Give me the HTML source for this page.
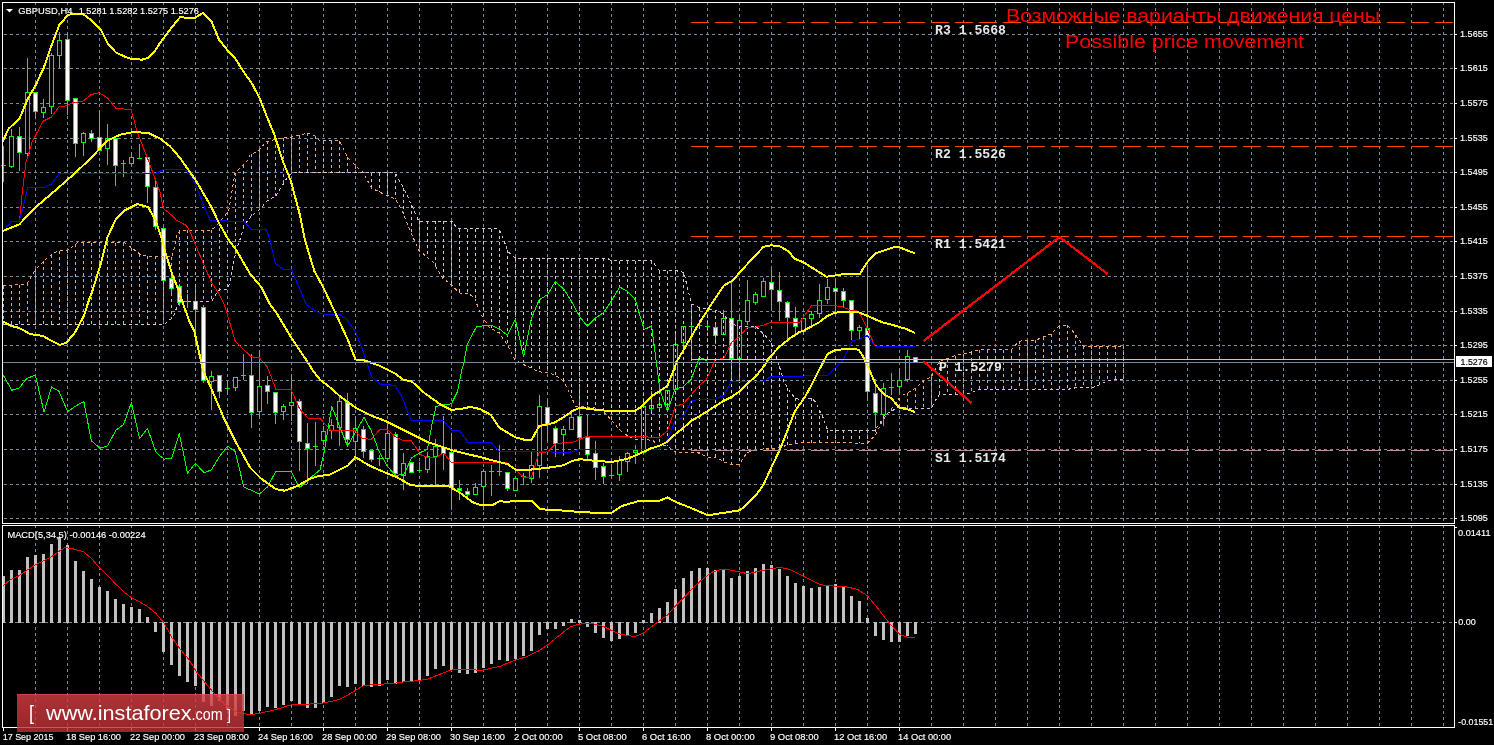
<!DOCTYPE html>
<html><head><meta charset="utf-8"><style>
html,body{margin:0;padding:0;background:#000;width:1494px;height:745px;overflow:hidden}
svg{display:block}
</style></head><body>
<svg width="1494" height="745" viewBox="0 0 1494 745" shape-rendering="crispEdges">
<rect x="0" y="0" width="1494" height="745" fill="#000"/>
<path d="M3 34.5H1454 M3 68.5H1454 M3 103.5H1454 M3 138.5H1454 M3 172.5H1454 M3 207.5H1454 M3 241.5H1454 M3 276.5H1454 M3 311.5H1454 M3 345.5H1454 M3 380.5H1454 M3 414.5H1454 M3 449.5H1454 M3 484.5H1454 M3 518.5H1454" stroke="#778899" stroke-width="1" stroke-dasharray="3 3" stroke-dashoffset="5" fill="none"/>
<path d="M35.5 3V523 M35.5 526V727 M67.5 3V523 M67.5 526V727 M99.5 3V523 M99.5 526V727 M131.5 3V523 M131.5 526V727 M163.5 3V523 M163.5 526V727 M195.5 3V523 M195.5 526V727 M227.5 3V523 M227.5 526V727 M259.5 3V523 M259.5 526V727 M291.5 3V523 M291.5 526V727 M323.5 3V523 M323.5 526V727 M355.5 3V523 M355.5 526V727 M387.5 3V523 M387.5 526V727 M419.5 3V523 M419.5 526V727 M451.5 3V523 M451.5 526V727 M483.5 3V523 M483.5 526V727 M515.5 3V523 M515.5 526V727 M547.5 3V523 M547.5 526V727 M579.5 3V523 M579.5 526V727 M611.5 3V523 M611.5 526V727 M643.5 3V523 M643.5 526V727 M675.5 3V523 M675.5 526V727 M707.5 3V523 M707.5 526V727 M739.5 3V523 M739.5 526V727 M771.5 3V523 M771.5 526V727 M803.5 3V523 M803.5 526V727 M835.5 3V523 M835.5 526V727 M867.5 3V523 M867.5 526V727 M899.5 3V523 M899.5 526V727 M931.5 3V523 M931.5 526V727 M963.5 3V523 M963.5 526V727 M995.5 3V523 M995.5 526V727 M1027.5 3V523 M1027.5 526V727 M1059.5 3V523 M1059.5 526V727 M1091.5 3V523 M1091.5 526V727 M1123.5 3V523 M1123.5 526V727 M1155.5 3V523 M1155.5 526V727 M1187.5 3V523 M1187.5 526V727 M1219.5 3V523 M1219.5 526V727 M1251.5 3V523 M1251.5 526V727 M1283.5 3V523 M1283.5 526V727 M1315.5 3V523 M1315.5 526V727 M1347.5 3V523 M1347.5 526V727 M1379.5 3V523 M1379.5 526V727 M1411.5 3V523 M1411.5 526V727 M1443.5 3V523 M1443.5 526V727" stroke="#778899" stroke-width="1" stroke-dasharray="3 3" stroke-dashoffset="1" fill="none"/>
<path d="M3 622.5H1454" stroke="#778899" stroke-width="1" stroke-dasharray="3 3" fill="none"/>
<path d="M3.5 145.8V181.8 M11.5 128.6V167.8 M19.5 126.6V170.6 M27.5 58.0V157.7 M35.5 92.4V119.0 M43.5 99.2V118.0 M51.5 52.6V113.8 M59.5 31.8V68.3 M67.5 33.3V114.5 M75.5 98.5V156.6 M83.5 132.0V155.6 M91.5 130.4V141.6 M99.5 110.5V149.5 M107.5 124.4V165.2 M115.5 138.0V185.6 M123.5 159.9V177.0 M131.5 153.4V166.3 M139.5 143.8V158.8 M147.5 157.0V202.8 M155.5 180.3V230.0 M163.5 226.6V305.0 M171.5 276.0V294.5 M179.5 284.3V305.9 M187.5 294.0V308.0 M195.5 286.4V344.4 M203.5 305.3V383.1 M211.5 371.3V410.0 M219.5 375.1V398.1 M227.5 381.0V395.0 M235.5 377.3V390.6 M243.5 354.0V379.9 M251.5 354.0V428.2 M259.5 350.4V417.5 M267.5 376.2V404.1 M275.5 392.1V423.9 M283.5 403.5V419.6 M291.5 374.4V420.6 M299.5 399.1V470.9 M307.5 422.7V483.8 M315.5 421.6V465.6 M323.5 425.8V445.2 M331.5 419.4V438.7 M339.5 396.8V446.2 M347.5 392.6V446.2 M355.5 417.3V460.2 M363.5 425.8V458.1 M371.5 449.9V462.4 M379.5 454.8V465.6 M387.5 422.6V462.4 M395.5 432.3V475.2 M403.5 452.7V490.3 M411.5 462.4V472.0 M419.5 462.4V473.1 M427.5 451.6V473.1 M435.5 438.7V487.1 M443.5 416.2V469.9 M451.5 433.4V509.6 M459.5 479.5V499.9 M467.5 487.7V498.9 M475.5 482.8V494.6 M483.5 468.5V510.3 M491.5 465.2V496.4 M499.5 444.8V476.0 M507.5 472.1V491.4 M515.5 478.1V491.0 M523.5 472.8V484.6 M531.5 451.9V482.9 M539.5 395.4V478.1 M547.5 399.7V440.5 M555.5 425.5V456.6 M563.5 425.5V455.6 M571.5 412.6V429.2 M579.5 389.0V450.2 M587.5 414.8V458.8 M595.5 441.2V480.3 M603.5 463.1V483.5 M611.5 467.0V478.6 M619.5 456.0V481.3 M627.5 452.0V472.0 M635.5 445.3V464.0 M643.5 400.7V452.2 M651.5 391.0V411.0 M659.5 399.1V410.4 M667.5 390.0V411.6 M675.5 331.7V390.0 M683.5 326.0V353.3 M691.5 307.2V359.5 M699.5 322.0V327.4 M707.5 322.5V331.0 M715.5 323.1V343.5 M723.5 310.2V333.8 M731.5 282.3V380.0 M739.5 314.5V380.0 M747.5 280.1V325.2 M755.5 292.0V304.8 M763.5 278.0V297.3 M771.5 269.0V310.2 M779.5 271.5V320.9 M787.5 300.5V339.2 M795.5 307.3V333.1 M803.5 315.9V335.2 M811.5 310.5V324.5 M819.5 284.1V318.1 M827.5 279.0V304.1 M835.5 279.0V311.6 M843.5 287.6V307.3 M851.5 299.8V339.5 M859.5 324.5V339.5 M867.5 265.4V401.2 M875.5 378.7V428.1 M883.5 383.0V425.9 M891.5 373.3V394.8 M899.5 369.0V392.6 M907.5 349.7V381.9 M915.5 356.5V362.5" stroke="#00ff00" stroke-width="1" fill="none"/>
<rect x="1" y="165" width="5" height="1" fill="#00ff00"/>
<rect x="9.5" y="136.5" width="4" height="30" fill="#000" stroke="#00ff00" stroke-width="1"/>
<rect x="17.5" y="136.5" width="4" height="16" fill="#fff" stroke="#00ff00" stroke-width="1"/>
<rect x="25.5" y="92.5" width="4" height="61" fill="#000" stroke="#00ff00" stroke-width="1"/>
<rect x="33.5" y="92.5" width="4" height="19" fill="#fff" stroke="#00ff00" stroke-width="1"/>
<rect x="41.5" y="107.5" width="4" height="5" fill="#000" stroke="#00ff00" stroke-width="1"/>
<rect x="49.5" y="55.5" width="4" height="51" fill="#000" stroke="#00ff00" stroke-width="1"/>
<rect x="57.5" y="40.5" width="4" height="15" fill="#000" stroke="#00ff00" stroke-width="1"/>
<rect x="65.5" y="39.5" width="4" height="61" fill="#fff" stroke="#00ff00" stroke-width="1"/>
<rect x="73.5" y="98.5" width="4" height="45" fill="#fff" stroke="#00ff00" stroke-width="1"/>
<rect x="81.5" y="133.5" width="4" height="9" fill="#000" stroke="#00ff00" stroke-width="1"/>
<rect x="89.5" y="133.5" width="4" height="5" fill="#fff" stroke="#00ff00" stroke-width="1"/>
<rect x="97.5" y="137.5" width="4" height="13" fill="#fff" stroke="#00ff00" stroke-width="1"/>
<rect x="105.5" y="138.5" width="4" height="10" fill="#000" stroke="#00ff00" stroke-width="1"/>
<rect x="113.5" y="138.5" width="4" height="27" fill="#fff" stroke="#00ff00" stroke-width="1"/>
<rect x="121" y="163" width="5" height="1" fill="#00ff00"/>
<rect x="129.5" y="157.5" width="4" height="6" fill="#000" stroke="#00ff00" stroke-width="1"/>
<rect x="137" y="158" width="5" height="1" fill="#00ff00"/>
<rect x="145.5" y="157.5" width="4" height="29" fill="#fff" stroke="#00ff00" stroke-width="1"/>
<rect x="153.5" y="187.5" width="4" height="39" fill="#fff" stroke="#00ff00" stroke-width="1"/>
<rect x="161.5" y="228.5" width="4" height="52" fill="#fff" stroke="#00ff00" stroke-width="1"/>
<rect x="169.5" y="278.5" width="4" height="10" fill="#fff" stroke="#00ff00" stroke-width="1"/>
<rect x="177.5" y="286.5" width="4" height="16" fill="#fff" stroke="#00ff00" stroke-width="1"/>
<rect x="185" y="301" width="5" height="1" fill="#00ff00"/>
<rect x="193.5" y="301.5" width="4" height="8" fill="#fff" stroke="#00ff00" stroke-width="1"/>
<rect x="201.5" y="307.5" width="4" height="73" fill="#fff" stroke="#00ff00" stroke-width="1"/>
<rect x="209.5" y="376.5" width="4" height="5" fill="#000" stroke="#00ff00" stroke-width="1"/>
<rect x="217.5" y="375.5" width="4" height="16" fill="#fff" stroke="#00ff00" stroke-width="1"/>
<rect x="225" y="388" width="5" height="1" fill="#00ff00"/>
<rect x="233.5" y="377.5" width="4" height="10" fill="#000" stroke="#00ff00" stroke-width="1"/>
<rect x="241" y="375" width="5" height="1" fill="#00ff00"/>
<rect x="249.5" y="375.5" width="4" height="37" fill="#fff" stroke="#00ff00" stroke-width="1"/>
<rect x="257.5" y="386.5" width="4" height="25" fill="#000" stroke="#00ff00" stroke-width="1"/>
<rect x="265.5" y="385.5" width="4" height="6" fill="#fff" stroke="#00ff00" stroke-width="1"/>
<rect x="273.5" y="392.5" width="4" height="20" fill="#fff" stroke="#00ff00" stroke-width="1"/>
<rect x="281.5" y="406.5" width="4" height="5" fill="#000" stroke="#00ff00" stroke-width="1"/>
<rect x="289.5" y="402.5" width="4" height="3" fill="#000" stroke="#00ff00" stroke-width="1"/>
<rect x="297.5" y="401.5" width="4" height="40" fill="#fff" stroke="#00ff00" stroke-width="1"/>
<rect x="305.5" y="443.5" width="4" height="5" fill="#fff" stroke="#00ff00" stroke-width="1"/>
<rect x="313" y="446" width="5" height="1" fill="#00ff00"/>
<rect x="321.5" y="431.5" width="4" height="9" fill="#000" stroke="#00ff00" stroke-width="1"/>
<rect x="329.5" y="425.5" width="4" height="5" fill="#000" stroke="#00ff00" stroke-width="1"/>
<rect x="337.5" y="401.5" width="4" height="26" fill="#000" stroke="#00ff00" stroke-width="1"/>
<rect x="345.5" y="402.5" width="4" height="37" fill="#fff" stroke="#00ff00" stroke-width="1"/>
<rect x="353.5" y="428.5" width="4" height="13" fill="#000" stroke="#00ff00" stroke-width="1"/>
<rect x="361.5" y="429.5" width="4" height="22" fill="#fff" stroke="#00ff00" stroke-width="1"/>
<rect x="369.5" y="450.5" width="4" height="9" fill="#fff" stroke="#00ff00" stroke-width="1"/>
<rect x="377" y="458" width="5" height="1" fill="#00ff00"/>
<rect x="385.5" y="433.5" width="4" height="25" fill="#000" stroke="#00ff00" stroke-width="1"/>
<rect x="393.5" y="434.5" width="4" height="39" fill="#fff" stroke="#00ff00" stroke-width="1"/>
<rect x="401.5" y="463.5" width="4" height="12" fill="#000" stroke="#00ff00" stroke-width="1"/>
<rect x="409.5" y="462.5" width="4" height="10" fill="#fff" stroke="#00ff00" stroke-width="1"/>
<rect x="417" y="470" width="5" height="1" fill="#00ff00"/>
<rect x="425.5" y="456.5" width="4" height="13" fill="#000" stroke="#00ff00" stroke-width="1"/>
<rect x="433.5" y="446.5" width="4" height="10" fill="#000" stroke="#00ff00" stroke-width="1"/>
<rect x="441.5" y="447.5" width="4" height="6" fill="#fff" stroke="#00ff00" stroke-width="1"/>
<rect x="449.5" y="452.5" width="4" height="35" fill="#fff" stroke="#00ff00" stroke-width="1"/>
<rect x="457.5" y="488.5" width="4" height="2" fill="#fff" stroke="#00ff00" stroke-width="1"/>
<rect x="465.5" y="491.5" width="4" height="3" fill="#fff" stroke="#00ff00" stroke-width="1"/>
<rect x="473.5" y="487.5" width="4" height="7" fill="#000" stroke="#00ff00" stroke-width="1"/>
<rect x="481.5" y="471.5" width="4" height="15" fill="#000" stroke="#00ff00" stroke-width="1"/>
<rect x="489" y="471" width="5" height="1" fill="#00ff00"/>
<rect x="497" y="471" width="5" height="1" fill="#00ff00"/>
<rect x="505.5" y="472.5" width="4" height="16" fill="#fff" stroke="#00ff00" stroke-width="1"/>
<rect x="513.5" y="478.5" width="4" height="12" fill="#000" stroke="#00ff00" stroke-width="1"/>
<rect x="521" y="476" width="5" height="1" fill="#00ff00"/>
<rect x="529.5" y="465.5" width="4" height="13" fill="#000" stroke="#00ff00" stroke-width="1"/>
<rect x="537.5" y="406.5" width="4" height="59" fill="#000" stroke="#00ff00" stroke-width="1"/>
<rect x="545.5" y="407.5" width="4" height="17" fill="#fff" stroke="#00ff00" stroke-width="1"/>
<rect x="553.5" y="428.5" width="4" height="15" fill="#fff" stroke="#00ff00" stroke-width="1"/>
<rect x="561.5" y="429.5" width="4" height="5" fill="#000" stroke="#00ff00" stroke-width="1"/>
<rect x="569.5" y="417.5" width="4" height="12" fill="#000" stroke="#00ff00" stroke-width="1"/>
<rect x="577.5" y="416.5" width="4" height="21" fill="#fff" stroke="#00ff00" stroke-width="1"/>
<rect x="585.5" y="437.5" width="4" height="17" fill="#fff" stroke="#00ff00" stroke-width="1"/>
<rect x="593.5" y="453.5" width="4" height="14" fill="#fff" stroke="#00ff00" stroke-width="1"/>
<rect x="601.5" y="466.5" width="4" height="10" fill="#fff" stroke="#00ff00" stroke-width="1"/>
<rect x="609" y="475" width="5" height="1" fill="#00ff00"/>
<rect x="617.5" y="460.5" width="4" height="14" fill="#000" stroke="#00ff00" stroke-width="1"/>
<rect x="625.5" y="453.5" width="4" height="8" fill="#000" stroke="#00ff00" stroke-width="1"/>
<rect x="633.5" y="450.5" width="4" height="2" fill="#000" stroke="#00ff00" stroke-width="1"/>
<rect x="641.5" y="406.5" width="4" height="46" fill="#000" stroke="#00ff00" stroke-width="1"/>
<rect x="649.5" y="405.5" width="4" height="3" fill="#000" stroke="#00ff00" stroke-width="1"/>
<rect x="657.5" y="404.5" width="4" height="3" fill="#000" stroke="#00ff00" stroke-width="1"/>
<rect x="665.5" y="390.5" width="4" height="14" fill="#000" stroke="#00ff00" stroke-width="1"/>
<rect x="673.5" y="344.5" width="4" height="45" fill="#000" stroke="#00ff00" stroke-width="1"/>
<rect x="681.5" y="326.5" width="4" height="16" fill="#000" stroke="#00ff00" stroke-width="1"/>
<rect x="689" y="326" width="5" height="1" fill="#00ff00"/>
<rect x="697" y="325" width="5" height="1" fill="#00ff00"/>
<rect x="705" y="326" width="5" height="1" fill="#00ff00"/>
<rect x="713.5" y="327.5" width="4" height="8" fill="#fff" stroke="#00ff00" stroke-width="1"/>
<rect x="721.5" y="318.5" width="4" height="16" fill="#000" stroke="#00ff00" stroke-width="1"/>
<rect x="729.5" y="318.5" width="4" height="40" fill="#fff" stroke="#00ff00" stroke-width="1"/>
<rect x="737.5" y="320.5" width="4" height="38" fill="#000" stroke="#00ff00" stroke-width="1"/>
<rect x="745.5" y="300.5" width="4" height="21" fill="#000" stroke="#00ff00" stroke-width="1"/>
<rect x="753.5" y="294.5" width="4" height="8" fill="#000" stroke="#00ff00" stroke-width="1"/>
<rect x="761.5" y="281.5" width="4" height="15" fill="#000" stroke="#00ff00" stroke-width="1"/>
<rect x="769.5" y="282.5" width="4" height="7" fill="#fff" stroke="#00ff00" stroke-width="1"/>
<rect x="777.5" y="290.5" width="4" height="11" fill="#fff" stroke="#00ff00" stroke-width="1"/>
<rect x="785.5" y="302.5" width="4" height="15" fill="#fff" stroke="#00ff00" stroke-width="1"/>
<rect x="793.5" y="318.5" width="4" height="8" fill="#fff" stroke="#00ff00" stroke-width="1"/>
<rect x="801.5" y="318.5" width="4" height="13" fill="#000" stroke="#00ff00" stroke-width="1"/>
<rect x="809.5" y="314.5" width="4" height="4" fill="#000" stroke="#00ff00" stroke-width="1"/>
<rect x="817.5" y="300.5" width="4" height="13" fill="#000" stroke="#00ff00" stroke-width="1"/>
<rect x="825.5" y="287.5" width="4" height="12" fill="#000" stroke="#00ff00" stroke-width="1"/>
<rect x="833.5" y="288.5" width="4" height="3" fill="#fff" stroke="#00ff00" stroke-width="1"/>
<rect x="841.5" y="291.5" width="4" height="9" fill="#fff" stroke="#00ff00" stroke-width="1"/>
<rect x="849.5" y="300.5" width="4" height="30" fill="#fff" stroke="#00ff00" stroke-width="1"/>
<rect x="857.5" y="327.5" width="4" height="3" fill="#000" stroke="#00ff00" stroke-width="1"/>
<rect x="865.5" y="328.5" width="4" height="63" fill="#fff" stroke="#00ff00" stroke-width="1"/>
<rect x="873.5" y="393.5" width="4" height="19" fill="#fff" stroke="#00ff00" stroke-width="1"/>
<rect x="881.5" y="388.5" width="4" height="26" fill="#000" stroke="#00ff00" stroke-width="1"/>
<rect x="889" y="387" width="5" height="1" fill="#00ff00"/>
<rect x="897.5" y="380.5" width="4" height="6" fill="#000" stroke="#00ff00" stroke-width="1"/>
<rect x="905.5" y="356.5" width="4" height="23" fill="#000" stroke="#00ff00" stroke-width="1"/>
<rect x="913.5" y="357.5" width="4" height="5" fill="#fff" stroke="#00ff00" stroke-width="1"/>
<path d="M3.5 285.6V324.0 M11.5 285.0V324.0 M19.5 284.5V324.0 M27.5 282.8V324.0 M35.5 269.4V324.0 M43.5 261.4V324.0 M51.5 254.9V324.0 M59.5 251.0V324.0 M67.5 250.2V324.0 M75.5 244.1V324.0 M83.5 242.7V324.0 M91.5 242.7V324.0 M99.5 242.7V324.0 M107.5 242.7V324.0 M115.5 242.7V324.0 M123.5 242.7V324.0 M131.5 247.8V324.0 M139.5 253.9V324.0 M147.5 255.9V324.0 M155.5 256.4V324.0 M163.5 256.8V324.0 M171.5 256.9V318.3 M179.5 231.0V302.4 M187.5 230.0V301.2 M195.5 230.0V301.2 M203.5 230.0V301.2 M211.5 230.0V301.2 M219.5 222.3V290.1 M227.5 212.1V289.1 M235.5 172.5V254.2 M243.5 164.5V227.4 M251.5 154.0V216.1 M259.5 149.4V209.7 M267.5 141.4V200.7 M275.5 139.3V195.7 M283.5 138.1V183.6 M291.5 136.9V173.7 M299.5 134.9V172.9 M307.5 133.3V172.9 M315.5 136.3V172.9 M323.5 140.8V172.9 M331.5 140.8V172.9 M339.5 141.2V172.9 M347.5 157.2V172.9 M355.5 165.6V172.9 M363.5 172.9V173.0 M891.5 408.4V411.2 M899.5 398.2V406.6 M907.5 392.9V408.2 M915.5 388.2V408.2 M923.5 380.4V408.2 M931.5 377.0V408.0 M939.5 361.2V394.2 M947.5 358.5V394.2 M955.5 355.5V394.2 M963.5 354.1V394.2 M971.5 351.8V392.6 M979.5 349.9V389.4 M987.5 349.9V389.4 M995.5 349.9V389.4 M1003.5 349.9V389.4 M1011.5 349.5V389.4 M1019.5 341.1V389.4 M1027.5 340.7V389.4 M1035.5 340.2V389.4 M1043.5 337.0V389.4 M1051.5 333.7V389.4 M1059.5 325.8V389.4 M1067.5 325.0V389.4 M1075.5 334.5V387.8 M1083.5 346.3V387.8 M1091.5 346.4V387.8 M1099.5 346.4V384.7 M1107.5 346.4V380.7 M1115.5 346.4V379.7 M1123.5 346.4V378.9" stroke="#f4a460" stroke-width="1" stroke-dasharray="3 3" fill="none"/>
<path d="M371.5 173.0V188.0 M379.5 173.0V192.0 M387.5 173.0V195.6 M395.5 173.5V199.3 M403.5 188.0V214.2 M411.5 204.9V233.9 M419.5 221.3V250.9 M427.5 221.3V257.5 M435.5 221.3V265.9 M443.5 221.3V278.7 M451.5 221.3V284.9 M459.5 228.9V292.9 M467.5 228.9V293.0 M475.5 228.9V300.6 M483.5 228.9V318.2 M491.5 229.0V328.5 M499.5 229.5V333.5 M507.5 250.4V345.3 M515.5 258.0V359.7 M523.5 258.0V364.5 M531.5 258.0V368.3 M539.5 258.0V371.8 M547.5 258.0V372.8 M555.5 258.0V375.2 M563.5 258.0V381.3 M571.5 258.0V397.2 M579.5 258.0V406.5 M587.5 258.0V407.0 M595.5 258.0V408.2 M603.5 258.0V412.1 M611.5 260.6V420.3 M619.5 260.6V429.7 M627.5 260.6V435.7 M635.5 260.6V439.0 M643.5 260.7V439.4 M651.5 260.8V440.3 M659.5 270.5V445.9 M667.5 270.5V445.9 M675.5 270.5V452.4 M683.5 272.5V452.4 M691.5 303.8V452.4 M699.5 307.8V453.4 M707.5 309.1V457.2 M715.5 310.3V457.7 M723.5 314.4V461.4 M731.5 324.2V464.3 M739.5 326.2V463.8 M747.5 326.3V453.1 M755.5 326.3V450.7 M763.5 333.8V449.4 M771.5 342.7V448.4 M779.5 366.1V447.6 M787.5 387.5V445.0 M795.5 397.9V443.5 M803.5 398.2V442.7 M811.5 398.0V442.8 M819.5 409.8V442.8 M827.5 429.9V442.9 M835.5 430.2V442.9 M843.5 430.2V443.0 M851.5 430.2V443.0 M859.5 430.2V443.1 M867.5 430.2V442.9 M875.5 429.3V434.9 M883.5 416.9V419.0" stroke="#d8bfd8" stroke-width="1" stroke-dasharray="3 3" fill="none"/>
<path d="M3.2 285.6 L26.8 284.0 L35.4 269.5 L47.2 257.7 L57.0 251.3 L67.6 250.2 L77.3 242.7 L124.6 242.7 L133.2 249.0 L141.7 255.6 L160.0 256.7 L171.5 256.9 L173.5 251.5 L176.8 234.8 L180.2 230.0 L211.7 230.0 L217.1 224.7 L220.5 221.3 L228.7 210.5 L235.0 173.0 L248.0 160.0 L250.2 154.6 L257.7 151.4 L266.3 141.7 L276.0 139.2 L291.0 137.0 L299.6 134.9 L308.2 133.2 L315.7 136.4 L320.0 140.8 L339.3 140.8 L347.9 158.0 L355.4 165.5 L363.0 172.0 L371.5 188.0 L382.3 193.4 L395.2 198.8 L401.6 209.5 L410.2 231.0 L418.8 250.3 L425.2 255.5 L433.8 262.9 L442.4 277.9 L451.0 284.4 L459.6 293.0 L468.2 293.0 L474.6 298.3 L480.0 312.3 L488.6 326.7 L499.3 333.2 L508.0 346.0 L514.4 359.0 L523.0 364.3 L539.1 371.8 L548.7 372.9 L555.2 375.0 L563.8 381.5 L570.2 394.4 L575.6 406.2 L591.7 407.3 L600.3 409.4 L606.7 414.8 L613.2 422.3 L619.6 429.8 L628.2 436.2 L634.6 439.0 L640.0 439.0 L652.9 440.5 L659.3 445.9 L667.5 445.9 L675.4 452.4 L696.9 452.4 L701.7 454.2 L707.4 457.2 L714.6 457.4 L719.5 459.3 L725.1 462.3 L731.5 464.3 L739.2 464.3 L742.0 459.9 L746.0 454.2 L750.0 451.2 L756.5 450.6 L762.1 449.6 L768.6 448.6 L774.2 448.3 L779.6 447.6 L788.2 444.8 L800.0 442.7 L867.3 443.1 L875.9 434.5 L882.4 420.5 L898.5 399.1 L903.2 395.0 L911.3 391.0 L916.1 387.8 L924.2 379.7 L931.4 377.3 L932.2 374.9 L939.5 361.2 L946.7 358.8 L954.8 355.6 L964.4 354.0 L972.5 351.5 L978.9 349.9 L1011.1 349.9 L1019.2 341.1 L1035.3 340.3 L1043.4 337.0 L1051.4 333.8 L1059.5 325.8 L1067.5 325.0 L1075.6 334.6 L1083.6 346.4 L1123.9 346.4" stroke="#f4a460" stroke-width="1" fill="none" stroke-linejoin="round" stroke-dasharray="3 3" shape-rendering="crispEdges"/>
<path d="M3.2 324.0 L165.0 324.0 L173.5 316.6 L176.8 307.2 L180.2 301.2 L211.7 301.2 L217.1 292.5 L220.5 289.1 L227.9 289.1 L230.5 279.0 L233.2 264.3 L237.2 246.8 L241.3 236.1 L244.0 225.4 L246.6 222.0 L252.4 215.0 L258.8 210.5 L267.4 200.8 L276.0 195.4 L283.5 183.6 L288.9 175.0 L293.2 172.9 L320.0 172.9 L395.2 173.0 L405.9 192.4 L418.8 221.3 L452.0 221.3 L457.5 228.9 L480.0 228.9 L499.3 229.0 L503.6 239.7 L507.9 251.5 L515.4 258.0 L606.7 258.0 L611.0 260.6 L640.0 260.6 L651.8 260.8 L659.3 270.5 L675.4 270.5 L684.0 272.6 L686.2 282.3 L691.5 303.8 L700.1 308.1 L715.2 310.2 L723.8 314.5 L731.3 324.2 L739.9 326.3 L756.0 326.3 L763.5 333.8 L771.4 342.4 L779.6 366.4 L783.9 381.5 L790.3 392.2 L794.6 397.6 L800.0 399.7 L804.0 398.0 L811.5 398.0 L815.8 402.3 L822.2 415.2 L827.6 430.2 L874.8 430.2 L878.1 425.9 L884.5 415.2 L892.0 410.9 L899.5 406.6 L907.2 408.2 L931.4 408.2 L933.8 403.1 L939.5 394.2 L963.6 394.2 L971.7 392.6 L978.9 389.4 L1067.5 389.4 L1075.6 387.8 L1091.7 387.8 L1099.7 384.6 L1107.8 380.5 L1123.9 378.9" stroke="#d8bfd8" stroke-width="1" fill="none" stroke-linejoin="round" stroke-dasharray="3 3" shape-rendering="crispEdges"/>
<path d="M19.3 220.0 L20.4 213.7 L21.5 199.6 L25.8 163.0 L26.8 160.0 L32.2 141.7 L43.0 121.3 L51.5 117.0 L59.0 107.0 L66.6 105.7 L73.0 102.7 L82.7 101.4 L91.3 94.5 L98.8 92.8 L107.4 97.7 L116.0 108.5 L131.0 109.5 L137.5 133.0 L148.2 160.0 L160.0 192.2 L163.2 208.3 L172.9 216.3 L176.2 220.0 L186.2 225.4 L188.9 229.4 L195.6 244.8 L203.7 264.3 L211.1 281.7 L218.5 293.2 L223.8 303.2 L227.2 314.0 L235.2 341.2 L251.3 356.9 L258.8 357.3 L267.4 367.0 L276.0 389.4 L291.0 389.4 L299.6 408.8 L308.2 418.4 L320.0 418.4 L330.7 430.1 L354.4 430.1 L363.0 438.7 L371.5 439.2 L380.1 429.1 L386.6 429.1 L395.2 436.6 L403.8 440.9 L411.3 440.9 L421.0 454.8 L427.4 457.4 L436.0 457.4 L443.5 453.3 L451.4 462.4 L480.0 462.4 L506.8 462.7 L515.4 469.5 L523.4 477.0 L531.5 477.0 L539.1 452.4 L547.4 451.9 L555.2 444.2 L563.8 442.7 L571.5 442.7 L587.4 436.2 L640.0 436.2 L650.7 437.3 L659.3 437.3 L667.5 430.9 L675.4 406.2 L683.0 404.0 L691.5 394.4 L699.0 385.8 L706.6 379.3 L715.2 359.6 L723.8 358.5 L731.5 342.4 L739.4 337.0 L747.4 327.4 L756.0 327.0 L763.5 325.2 L771.4 322.0 L800.0 322.0 L811.5 305.6 L835.1 305.6 L842.6 306.9 L851.2 310.5 L858.7 311.2 L867.3 328.8 L874.8 346.0 L915.0 346.0" stroke="#ff0000" stroke-width="1" fill="none" stroke-linejoin="round" shape-rendering="crispEdges"/>
<path d="M3.2 230.9 L11.8 221.2 L19.3 221.2 L27.9 187.5 L44.0 187.5 L51.5 184.0 L59.0 174.0 L155.5 173.5 L163.5 169.5 L183.5 169.5 L187.5 170.8 L195.5 184.0 L203.5 205.0 L210.4 220.7 L244.0 221.3 L251.3 229.2 L266.3 229.8 L270.0 240.0 L275.4 263.5 L283.4 269.3 L291.5 269.3 L306.2 304.4 L315.6 311.1 L323.0 314.1 L339.1 314.1 L346.5 319.2 L355.4 331.6 L363.0 351.0 L371.5 376.7 L380.1 384.0 L395.2 385.4 L401.6 396.0 L407.0 410.0 L411.3 420.5 L443.5 420.5 L451.4 430.1 L459.6 430.6 L468.2 442.6 L480.0 442.6 L490.7 442.3 L499.3 451.3 L546.6 451.3 L555.2 452.4 L571.3 452.4 L579.9 449.1 L640.0 449.1 L659.3 449.1 L667.5 439.5 L675.4 420.1 L683.0 417.6 L691.5 400.4 L699.0 399.7 L715.2 399.3 L723.8 395.4 L731.3 381.5 L763.5 381.5 L771.4 376.1 L800.0 376.1 L827.6 375.5 L843.7 359.0 L852.3 340.6 L858.7 339.5 L867.3 335.7 L874.8 346.0 L915.0 346.0" stroke="#0000ff" stroke-width="1" fill="none" stroke-linejoin="round" shape-rendering="crispEdges"/>
<path d="M3.2 375.2 L11.8 390.2 L19.3 388.0 L26.8 378.4 L35.4 375.2 L44.0 412.0 L51.5 387.0 L59.0 391.3 L67.6 411.7 L75.2 406.3 L83.8 401.4 L91.3 440.7 L99.9 448.2 L107.4 446.0 L116.0 430.0 L123.5 424.6 L131.4 402.7 L139.6 438.5 L147.5 428.4 L155.7 451.4 L160.0 455.9 L164.3 459.1 L171.8 458.0 L179.3 433.4 L187.5 473.1 L195.4 463.4 L204.0 472.7 L211.5 469.9 L219.0 457.0 L227.7 446.2 L235.2 451.6 L243.8 487.0 L251.3 490.3 L259.4 494.1 L267.4 487.0 L276.0 471.0 L291.0 471.0 L299.6 487.7 L308.2 479.5 L320.0 469.9 L324.3 451.6 L331.8 406.5 L339.3 425.8 L347.5 446.2 L355.4 432.3 L364.0 417.3 L371.5 431.2 L379.1 451.6 L387.7 466.6 L395.2 475.2 L403.8 474.8 L411.3 458.1 L419.9 452.7 L427.4 449.5 L431.7 425.8 L436.0 406.5 L443.5 404.4 L451.4 403.9 L457.5 391.5 L461.8 370.0 L463.9 362.8 L467.1 344.5 L476.8 326.2 L480.0 326.2 L490.7 325.0 L499.3 328.9 L507.5 335.3 L515.4 319.2 L523.6 356.8 L531.5 318.1 L539.1 299.9 L547.7 294.5 L555.2 281.6 L563.8 289.1 L571.3 301.0 L579.9 317.0 L587.4 326.3 L596.0 317.7 L603.5 312.8 L611.4 301.0 L619.6 287.0 L627.6 291.3 L635.5 299.9 L640.0 316.0 L644.3 329.5 L651.6 326.0 L660.1 390.9 L667.6 411.6 L675.1 389.0 L682.6 387.1 L691.1 379.6 L699.5 357.1 L707.1 360.8" stroke="#00ff00" stroke-width="1" fill="none" stroke-linejoin="round" shape-rendering="crispEdges"/>
<path d="M2.6 141.6 L8.6 128.7 L19.3 119.0 L27.9 98.7 L36.5 83.6 L40.3 75.0 L43.5 68.5 L51.5 45.4 L59.5 24.5 L63.8 20.0 L67.5 15.2 L71.8 13.9 L82.6 13.9 L86.3 16.3 L91.5 20.5 L101.0 30.0 L107.4 43.0 L116.0 52.6 L128.9 58.4 L141.7 59.7 L148.2 58.0 L154.6 51.5 L160.0 43.0 L169.7 30.0 L180.4 16.8 L188.0 18.3 L195.4 17.6 L203.0 12.9 L211.5 21.5 L219.0 39.7 L227.7 50.5 L235.2 58.4 L243.8 72.0 L252.4 84.2 L259.9 98.8 L267.4 118.0 L273.8 133.2 L278.0 146.0 L282.4 160.0 L291.0 181.5 L299.6 213.7 L304.9 240.0 L314.3 270.9 L323.7 288.3 L335.8 313.8 L347.9 340.0 L355.4 359.5 L363.0 360.0 L371.5 362.8 L380.1 366.0 L395.2 373.5 L403.8 380.2 L411.3 381.0 L425.2 393.6 L440.3 404.4 L451.0 409.7 L459.6 409.3 L470.3 406.9 L480.0 409.1 L490.7 414.8 L499.3 427.7 L515.4 437.3 L525.1 439.9 L531.5 439.9 L539.1 426.2 L547.7 424.4 L555.2 422.3 L563.8 416.9 L572.4 411.1 L579.9 407.7 L596.0 409.8 L611.4 411.1 L634.6 411.1 L640.0 407.7 L652.9 395.4 L667.5 385.8 L677.6 360.0 L683.0 351.0 L698.0 325.2 L713.0 301.6 L723.8 285.5 L732.4 280.6 L747.4 264.0 L763.5 246.8 L771.4 245.3 L779.6 246.2 L788.2 251.1 L794.6 258.7 L800.0 260.8 L805.0 263.3 L813.6 268.7 L826.5 276.8 L835.1 275.5 L843.7 274.0 L859.8 274.0 L867.3 262.2 L875.9 253.2 L884.5 250.4 L895.2 246.8 L899.5 247.2 L907.1 250.4 L915.0 253.2" stroke="#ffff00" stroke-width="2" fill="none" stroke-linejoin="round" shape-rendering="crispEdges"/>
<path d="M3.2 230.9 L19.3 224.4 L34.4 208.3 L55.8 190.0 L74.0 174.0 L90.2 158.8 L107.4 140.5 L120.3 134.7 L133.2 132.0 L148.2 133.0 L160.0 138.5 L169.7 146.0 L176.0 153.0 L181.5 160.0 L196.5 181.5 L211.5 207.2 L218.5 222.0 L227.9 238.8 L235.9 249.5 L250.0 273.7 L261.0 286.7 L270.0 304.4 L276.0 312.2 L292.8 340.0 L306.0 359.5 L312.5 370.0 L320.0 379.7 L332.9 389.6 L339.3 395.8 L355.4 407.6 L372.6 416.2 L386.6 421.5 L397.3 426.9 L412.4 434.4 L427.4 442.0 L444.6 447.7 L453.2 450.5 L470.3 454.8 L480.0 457.0 L490.7 459.9 L507.9 464.2 L515.4 469.5 L531.5 469.5 L547.7 467.8 L563.8 465.2 L572.4 460.9 L579.9 459.2 L596.0 460.9 L611.4 462.0 L627.6 458.8 L640.0 453.4 L650.7 448.5 L659.3 445.9 L667.5 441.6 L675.4 434.1 L683.0 428.3 L691.5 420.6 L700.1 415.8 L715.2 406.2 L723.8 400.8 L732.4 396.5 L739.9 391.1 L747.4 383.6 L756.0 376.1 L764.6 365.4 L768.9 358.0 L779.6 346.7 L790.3 338.1 L800.0 331.7 L802.9 331.0 L819.0 322.4 L827.6 315.9 L835.1 312.7 L843.7 311.6 L854.4 311.6 L859.8 312.7 L867.3 315.9 L882.4 322.4 L890.9 324.5 L907.1 329.2 L915.0 333.1" stroke="#ffff00" stroke-width="2" fill="none" stroke-linejoin="round" shape-rendering="crispEdges"/>
<path d="M3.2 321.5 L10.7 325.8 L19.3 328.0 L30.0 334.0 L43.0 336.0 L51.5 340.8 L60.0 345.0 L66.6 342.5 L75.2 332.2 L83.8 316.0 L89.0 300.0 L92.4 291.0 L101.0 263.0 L107.4 237.3 L116.0 219.0 L124.6 210.5 L137.5 204.0 L148.2 207.2 L155.4 220.0 L162.1 240.1 L166.1 254.9 L172.1 273.7 L178.9 291.1 L182.9 303.2 L188.9 320.0 L194.4 331.5 L203.0 370.2 L211.5 389.0 L224.4 419.4 L235.2 440.9 L250.2 467.7 L261.0 478.5 L276.0 489.2 L284.6 490.7 L297.5 486.0 L310.3 478.5 L320.0 475.7 L328.6 475.2 L339.3 469.9 L347.9 465.6 L355.4 457.0 L363.0 461.9 L371.5 466.6 L386.6 473.1 L397.3 477.4 L410.2 484.9 L418.8 486.0 L436.0 486.0 L448.9 486.4 L459.6 492.4 L472.5 502.1 L480.0 504.9 L492.9 505.0 L499.3 501.3 L507.9 501.8 L515.4 500.7 L531.5 500.7 L540.1 509.3 L555.2 509.9 L572.4 511.4 L596.0 512.9 L611.4 512.9 L621.8 506.0 L640.0 500.7 L659.3 500.7 L667.5 497.5 L675.4 501.8 L691.5 508.2 L707.7 515.1 L715.2 514.2 L732.4 511.4 L739.9 510.3 L747.4 503.9 L756.0 495.3 L763.5 484.6 L771.4 467.4 L779.6 450.2 L788.2 428.7 L794.6 411.5 L800.0 404.0 L805.0 396.9 L811.5 385.1 L817.9 372.2 L827.6 354.0 L835.1 350.3 L846.9 348.6 L858.7 349.7 L864.1 358.3 L869.5 370.1 L875.9 385.1 L884.5 394.8 L890.9 398.0 L899.5 407.7 L907.1 409.2 L915.0 412.0" stroke="#ffff00" stroke-width="2" fill="none" stroke-linejoin="round" shape-rendering="crispEdges"/>
<path d="M3 576h2V623h-2Z M10 570h3V623h-3Z M18 570h3V623h-3Z M26 557h3V623h-3Z M34 555h3V623h-3Z M42 554h3V623h-3Z M50 544h3V623h-3Z M58 537h3V623h-3Z M66 545h3V623h-3Z M74 561h3V623h-3Z M82 571h3V623h-3Z M90 579h3V623h-3Z M98 587h3V623h-3Z M106 591h3V623h-3Z M114 599h3V623h-3Z M122 604h3V623h-3Z M130 607h3V623h-3Z M138 609h3V623h-3Z M146 617h3V623h-3Z M154 622h3V632h-3Z M162 622h3V652h-3Z M170 622h3V665h-3Z M178 622h3V676h-3Z M186 622h3V682h-3Z M194 622h3V686h-3Z M202 622h3V702h-3Z M210 622h3V706h-3Z M218 622h3V701h-3Z M226 622h3V710h-3Z M234 622h3V716h-3Z M242 622h3V711h-3Z M250 622h3V714h-3Z M258 622h3V711h-3Z M266 622h3V707h-3Z M274 622h3V708h-3Z M282 622h3V705h-3Z M290 622h3V701h-3Z M298 622h3V705h-3Z M306 622h3V708h-3Z M314 622h3V708h-3Z M322 622h3V703h-3Z M330 622h3V697h-3Z M338 622h3V686h-3Z M346 622h3V687h-3Z M354 622h3V684h-3Z M362 622h3V686h-3Z M370 622h3V687h-3Z M378 622h3V686h-3Z M386 622h3V680h-3Z M394 622h3V684h-3Z M402 622h3V682h-3Z M410 622h3V682h-3Z M418 622h3V681h-3Z M426 622h3V676h-3Z M434 622h3V669h-3Z M442 622h3V666h-3Z M450 622h3V670h-3Z M458 622h3V673h-3Z M466 622h3V674h-3Z M474 622h3V673h-3Z M482 622h3V668h-3Z M490 622h3V664h-3Z M498 622h3V660h-3Z M506 622h3V661h-3Z M514 622h3V659h-3Z M522 622h3V656h-3Z M530 622h3V651h-3Z M538 622h3V635h-3Z M546 622h3V629h-3Z M554 622h3V629h-3Z M562 622h3V626h-3Z M570 619h3V623h-3Z M578 620h3V623h-3Z M586 622h3V627h-3Z M594 622h3V633h-3Z M602 622h3V638h-3Z M610 622h3V641h-3Z M618 622h3V639h-3Z M626 622h3V636h-3Z M634 622h3V633h-3Z M642 620h3V623h-3Z M650 613h3V623h-3Z M658 608h3V623h-3Z M666 602h3V623h-3Z M674 589h3V623h-3Z M682 578h3V623h-3Z M690 571h3V623h-3Z M698 568h3V623h-3Z M706 568h3V623h-3Z M714 570h3V623h-3Z M722 569h3V623h-3Z M730 578h3V623h-3Z M738 576h3V623h-3Z M746 571h3V623h-3Z M754 568h3V623h-3Z M762 564h3V623h-3Z M770 565h3V623h-3Z M778 569h3V623h-3Z M786 576h3V623h-3Z M794 583h3V623h-3Z M802 586h3V623h-3Z M810 588h3V623h-3Z M818 587h3V623h-3Z M826 585h3V623h-3Z M834 584h3V623h-3Z M842 586h3V623h-3Z M850 596h3V623h-3Z M858 601h3V623h-3Z M866 618h3V623h-3Z M874 622h3V636h-3Z M882 622h3V640h-3Z M890 622h3V642h-3Z M898 622h3V642h-3Z M906 622h3V636h-3Z M914 622h3V634h-3Z" fill="#c0c0c0"/>
<path d="M2.7 585.8 L10.7 579.7 L19.3 575.6 L26.8 570.3 L35.4 564.9 L43.5 560.9 L51.5 556.8 L59.6 551.0 L65.0 547.6 L72.0 548.6 L83.2 551.5 L91.3 558.2 L99.3 567.6 L107.4 575.6 L115.4 583.7 L123.5 591.7 L131.5 597.7 L139.6 601.9 L147.7 606.5 L155.7 613.2 L163.8 622.6 L171.8 637.4 L180.0 648.9 L188.7 659.3 L197.5 673.3 L206.2 683.8 L214.9 694.3 L225.4 704.7 L235.9 711.7 L249.8 714.9 L260.3 713.1 L274.3 710.0 L291.7 704.7 L307.4 704.2 L323.1 703.0 L331.9 701.2 L338.8 699.5 L347.6 695.1 L356.3 689.9 L363.3 685.9 L372.0 684.7 L379.0 684.7 L387.7 683.4 L398.2 682.9 L406.9 681.2 L410.0 681.6 L419.6 680.3 L427.7 679.2 L435.7 675.9 L450.2 670.3 L458.2 669.2 L482.3 670.3 L490.3 668.4 L500.0 666.3 L514.4 660.4 L525.7 657.1 L538.5 651.0 L548.2 644.6 L557.8 636.6 L570.6 626.6 L578.7 624.2 L586.7 623.4 L594.7 624.1 L602.8 626.1 L610.8 630.2 L618.8 633.7 L626.9 635.5 L634.9 636.6 L642.9 633.4 L649.7 628.1 L659.4 620.7 L667.2 615.3 L674.9 606.7 L684.6 597.0 L694.3 586.7 L704.0 578.0 L711.8 572.2 L721.5 569.3 L729.3 569.8 L739.0 571.8 L747.7 573.7 L756.5 571.8 L764.2 570.2 L772.0 568.7 L779.8 567.3 L789.5 569.3 L803.0 576.1 L820.5 584.8 L834.1 586.1 L845.7 586.7 L857.4 589.3 L867.1 595.5 L876.8 607.1 L886.5 619.7 L892.3 626.5 L900.1 634.7 L907.9 637.2 L914.6 637.2" stroke="#ff0000" stroke-width="1" fill="none" stroke-linejoin="round" shape-rendering="crispEdges"/>
<path d="M691 22.5H1454" stroke="#ff4500" stroke-width="1" stroke-dasharray="18 6" fill="none"/>
<path d="M691 146.5H1454" stroke="#ff4500" stroke-width="1" stroke-dasharray="18 6" fill="none"/>
<path d="M691 236.5H1454" stroke="#ff4500" stroke-width="1" stroke-dasharray="18 6" fill="none"/>
<path d="M691 450.5H1454" stroke="#bc8f8f" stroke-width="1" stroke-dasharray="18 6" fill="none"/>
<path d="M691 359.5H1454" stroke="#ffd700" stroke-width="1" fill="none"/>
<path d="M3 362.5H1454" stroke="#778899" stroke-width="1" fill="none"/>
<path d="M923.4 341.1L1059.5 237L1107.8 274.1 M923.4 361.2L971.7 403.1" stroke="#ff0000" stroke-width="2.3" fill="none" shape-rendering="crispEdges"/>
<g font-family="Liberation Mono, monospace" font-size="13" font-weight="bold" fill="#e8e8e8" shape-rendering="auto">
<text x="935" y="34" textLength="71" lengthAdjust="spacingAndGlyphs">R3 1.5668</text>
<text x="935" y="158" textLength="71" lengthAdjust="spacingAndGlyphs">R2 1.5526</text>
<text x="935" y="248" textLength="71" lengthAdjust="spacingAndGlyphs">R1 1.5421</text>
<text x="939" y="371" textLength="63" lengthAdjust="spacingAndGlyphs">P 1.5279</text>
<text x="935" y="462" textLength="71" lengthAdjust="spacingAndGlyphs">S1 1.5174</text>
</g>
<g font-family="Liberation Sans, DejaVu Sans, sans-serif" font-size="18" fill="#ff0000" shape-rendering="auto">
<text x="1006" y="22" textLength="374" lengthAdjust="spacingAndGlyphs">Возможные варианты движения цены</text>
<text x="1065" y="48" textLength="239" lengthAdjust="spacingAndGlyphs">Possible price movement</text>
</g>
<path d="M2.5 2.5H1454.5V523.5H2.5Z M2.5 525.5H1454.5V727.5H2.5Z" stroke="#fff" stroke-width="1" fill="none"/>
<path d="M1455 34.5H1457 M1455 68.5H1457 M1455 103.5H1457 M1455 138.5H1457 M1455 172.5H1457 M1455 207.5H1457 M1455 241.5H1457 M1455 276.5H1457 M1455 311.5H1457 M1455 345.5H1457 M1455 380.5H1457 M1455 414.5H1457 M1455 449.5H1457 M1455 484.5H1457 M1455 518.5H1457 M1455 527.5H1457 M1455 622.5H1457" stroke="#fff" stroke-width="1"/>
<path d="M3.5 728V731 M67.5 728V731 M131.5 728V731 M195.5 728V731 M259.5 728V731 M323.5 728V731 M387.5 728V731 M451.5 728V731 M515.5 728V731 M579.5 728V731 M643.5 728V731 M707.5 728V731 M771.5 728V731 M835.5 728V731 M899.5 728V731" stroke="#fff" stroke-width="1"/>
<g font-family="Liberation Sans, Arial, sans-serif" font-size="9.7" fill="#fff" stroke="#fff" stroke-width="0.15" shape-rendering="auto">
<text x="1460" y="37.2" textLength="27.8" lengthAdjust="spacingAndGlyphs">1.5655</text>
<text x="1460" y="71.2" textLength="27.8" lengthAdjust="spacingAndGlyphs">1.5615</text>
<text x="1460" y="106.2" textLength="27.8" lengthAdjust="spacingAndGlyphs">1.5575</text>
<text x="1460" y="141.2" textLength="27.8" lengthAdjust="spacingAndGlyphs">1.5535</text>
<text x="1460" y="175.2" textLength="27.8" lengthAdjust="spacingAndGlyphs">1.5495</text>
<text x="1460" y="210.2" textLength="27.8" lengthAdjust="spacingAndGlyphs">1.5455</text>
<text x="1460" y="244.2" textLength="27.8" lengthAdjust="spacingAndGlyphs">1.5415</text>
<text x="1460" y="279.2" textLength="27.8" lengthAdjust="spacingAndGlyphs">1.5375</text>
<text x="1460" y="314.2" textLength="27.8" lengthAdjust="spacingAndGlyphs">1.5335</text>
<text x="1460" y="348.2" textLength="27.8" lengthAdjust="spacingAndGlyphs">1.5295</text>
<text x="1460" y="383.2" textLength="27.8" lengthAdjust="spacingAndGlyphs">1.5255</text>
<text x="1460" y="417.2" textLength="27.8" lengthAdjust="spacingAndGlyphs">1.5215</text>
<text x="1460" y="452.2" textLength="27.8" lengthAdjust="spacingAndGlyphs">1.5175</text>
<text x="1460" y="487.2" textLength="27.8" lengthAdjust="spacingAndGlyphs">1.5135</text>
<text x="1460" y="521.2" textLength="27.8" lengthAdjust="spacingAndGlyphs">1.5095</text>
<text x="1458" y="536" textLength="32.5" lengthAdjust="spacingAndGlyphs">0.01411</text>
<text x="1458.2" y="625" textLength="17.5" lengthAdjust="spacingAndGlyphs">0.00</text>
<text x="1458.2" y="724.5" textLength="35" lengthAdjust="spacingAndGlyphs">-0.01551</text>
<text x="2.7" y="740" textLength="50.8" lengthAdjust="spacingAndGlyphs">17 Sep 2015</text>
<text x="66" y="740" textLength="55" lengthAdjust="spacingAndGlyphs">18 Sep 16:00</text>
<text x="130" y="740" textLength="55" lengthAdjust="spacingAndGlyphs">22 Sep 00:00</text>
<text x="194" y="740" textLength="55" lengthAdjust="spacingAndGlyphs">23 Sep 08:00</text>
<text x="258" y="740" textLength="55" lengthAdjust="spacingAndGlyphs">24 Sep 16:00</text>
<text x="322" y="740" textLength="55" lengthAdjust="spacingAndGlyphs">28 Sep 00:00</text>
<text x="386" y="740" textLength="55" lengthAdjust="spacingAndGlyphs">29 Sep 08:00</text>
<text x="450" y="740" textLength="55" lengthAdjust="spacingAndGlyphs">30 Sep 16:00</text>
<text x="514" y="740" textLength="48.7" lengthAdjust="spacingAndGlyphs">2 Oct 00:00</text>
<text x="578" y="740" textLength="48.7" lengthAdjust="spacingAndGlyphs">5 Oct 08:00</text>
<text x="642" y="740" textLength="48.7" lengthAdjust="spacingAndGlyphs">6 Oct 16:00</text>
<text x="706" y="740" textLength="48.7" lengthAdjust="spacingAndGlyphs">8 Oct 00:00</text>
<text x="770" y="740" textLength="48.7" lengthAdjust="spacingAndGlyphs">9 Oct 08:00</text>
<text x="834" y="740" textLength="53.2" lengthAdjust="spacingAndGlyphs">12 Oct 16:00</text>
<text x="898" y="740" textLength="53.2" lengthAdjust="spacingAndGlyphs">14 Oct 00:00</text>
</g>
<rect x="1456" y="356" width="36" height="11" fill="#fff"/>
<g font-family="Liberation Sans, Arial, sans-serif" font-size="9.7" fill="#fff" stroke="#fff" stroke-width="0.15" shape-rendering="auto">
<text x="1460.6" y="365" fill="#000" stroke="#000" textLength="27" lengthAdjust="spacingAndGlyphs">1.5276</text>
<text x="18.3" y="14" textLength="54.1" lengthAdjust="spacingAndGlyphs">GBPUSD,H4</text>
<text x="78.7" y="14" textLength="120.2" lengthAdjust="spacingAndGlyphs">1.5281 1.5282 1.5275 1.5276</text>
<text x="7.4" y="538" textLength="138.2" lengthAdjust="spacingAndGlyphs">MACD(5,34,5) -0.00146 -0.00224</text>
</g>
<path d="M6 9H13L9.5 12.5Z" fill="#fff" shape-rendering="auto"/>
<defs><linearGradient id="wg" x1="0" y1="0" x2="0" y2="1"><stop offset="0" stop-color="rgb(214,64,68)"/><stop offset="1" stop-color="rgb(190,48,52)"/></linearGradient></defs>
<rect x="17" y="694" width="227" height="38" fill="url(#wg)" fill-opacity="0.8"/>
<rect x="17" y="694" width="227" height="1" fill="rgb(230,90,92)" fill-opacity="0.5"/>
<g font-family="Liberation Sans, DejaVu Sans, sans-serif" fill="#fff" shape-rendering="auto">
<text x="29" y="720" font-size="20" textLength="5" lengthAdjust="spacingAndGlyphs">[</text>
<text x="46" y="719.5" font-size="21" textLength="145.6" lengthAdjust="spacingAndGlyphs">www.instaforex</text>
<text x="191.6" y="719.5" font-size="16" textLength="31" lengthAdjust="spacingAndGlyphs">.com</text>
<text x="227" y="720" font-size="15" textLength="4" lengthAdjust="spacingAndGlyphs">]</text>
</g>
</svg>
</body></html>
